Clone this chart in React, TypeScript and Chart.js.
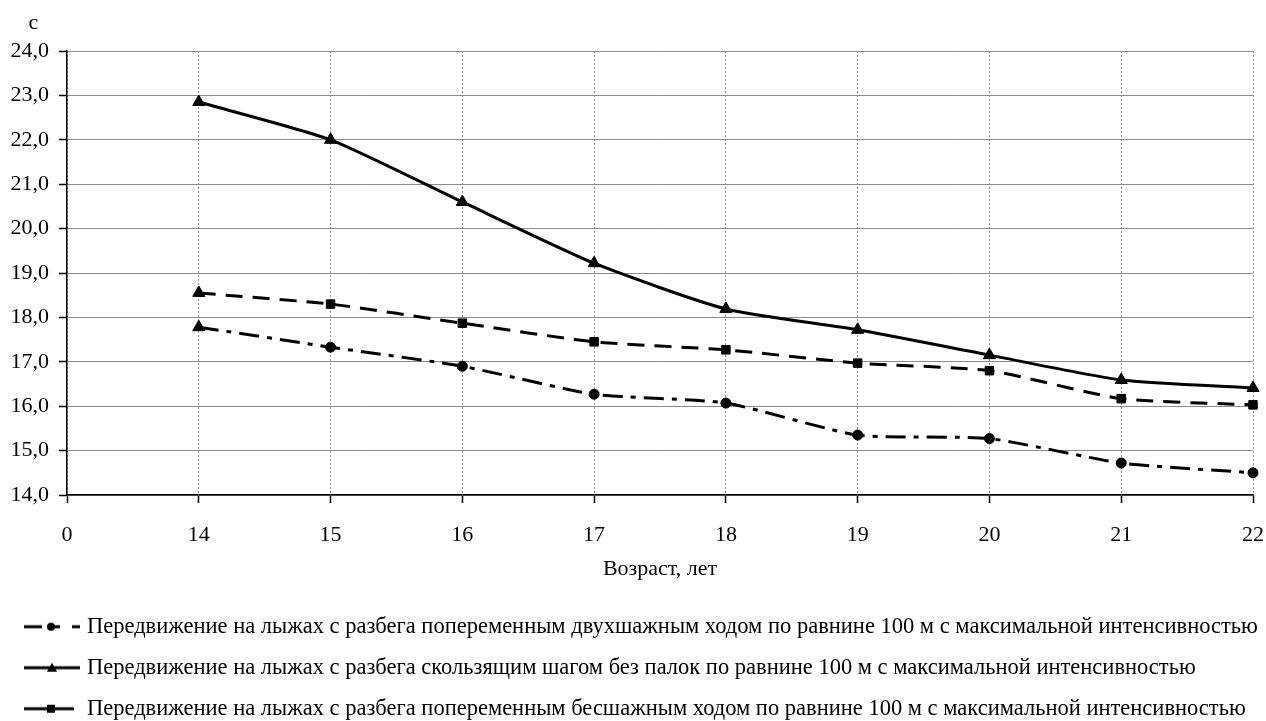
import React, { useEffect, useRef } from "react";
import { Chart, registerables } from "chart.js";

Chart.register(...registerables);

const categories = ["0", "14", "15", "16", "17", "18", "19", "20", "21", "22"];
const seriesLabels = [
  "Передвижение на лыжах с разбега попеременным двухшажным ходом по равнине 100 м с максимальной интенсивностью",
  "Передвижение на лыжах с разбега скользящим шагом без палок по равнине 100 м с максимальной интенсивностью",
  "Передвижение на лыжах с разбега попеременным бесшажным ходом по равнине 100 м с максимальной интенсивностью",
];
const twoStepValues = [null, 17.78, 17.33, 16.9, 16.27, 16.07, 15.35, 15.27, 14.72, 14.5];
const glideValues = [null, 22.85, 22.0, 20.6, 19.22, 18.19, 17.72, 17.15, 16.59, 16.41];
const noStepValues = [null, 18.55, 18.3, 17.87, 17.45, 17.27, 16.97, 16.8, 16.17, 16.03];
const yMin = 14;
const yMax = 24;
const xTitle = "Возраст, лет";
const yUnit = "c";

const FONT = "'Liberation Serif', 'Times New Roman', serif";
const TICK_FS = 22;
const LEG_FS = 22.5;
const LEG_PAD = 41 - LEG_FS;
const PAD_LEFT = 28.25 - LEG_PAD;

function makeSample(kind: number): HTMLCanvasElement {
  const c = document.createElement("canvas");
  c.width = 56;
  c.height = 14;
  const g = c.getContext("2d")!;
  g.fillStyle = "#000";
  const cy = 7;
  const bar = (x1: number, x2: number) => g.fillRect(x1, cy - 1.5, x2 - x1, 3);
  if (kind === 0) {
    bar(0, 18);
    bar(27, 36);
    bar(48, 56);
    g.beginPath();
    g.arc(27, cy, 4, 0, Math.PI * 2);
    g.fill();
  } else if (kind === 1) {
    bar(0, 56);
    g.beginPath();
    g.moveTo(28, cy - 5);
    g.lineTo(33, cy + 4);
    g.lineTo(23, cy + 4);
    g.closePath();
    g.fill();
  } else {
    bar(0, 50);
    g.fillRect(23, cy - 4, 8, 8);
  }
  return c;
}

const unitPlugin = {
  id: "unitLabel",
  afterDraw(chart: any) {
    const ctx = chart.ctx;
    ctx.save();
    ctx.fillStyle = "#000";
    ctx.font = `${TICK_FS}px ${FONT}`;
    ctx.textAlign = "center";
    ctx.textBaseline = "alphabetic";
    ctx.fillText(yUnit, 33.5, 28.5);
    ctx.restore();
  },
};

export default function App() {
  const ref = useRef<HTMLCanvasElement | null>(null);
  useEffect(() => {
    if (!ref.current) return;
    const samples = [makeSample(0), makeSample(1), makeSample(2)];
    const styleArr = (main: string, first: string) =>
      categories.map((_, i) => (i === 1 ? first : main));
    const radArr = (main: number, first: number) =>
      categories.map((_, i) => (i === 1 ? first : main));
    const chart = new Chart(ref.current, {
      type: "line",
      data: {
        labels: categories,
        datasets: [
          {
            label: seriesLabels[0],
            data: twoStepValues,
            borderColor: "#000",
            backgroundColor: "#000",
            borderWidth: 3,
            borderDash: [20, 8, 5, 8],
            pointStyle: styleArr("circle", "triangle") as any,
            pointRadius: radArr(5, 7),
            pointBorderWidth: 1,
            tension: 0.2,
          },
          {
            label: seriesLabels[1],
            data: glideValues,
            borderColor: "#000",
            backgroundColor: "#000",
            borderWidth: 3,
            pointStyle: "triangle",
            pointRadius: 7,
            pointBorderWidth: 1,
            tension: 0.2,
          },
          {
            label: seriesLabels[2],
            data: noStepValues,
            borderColor: "#000",
            backgroundColor: "#000",
            borderWidth: 3,
            borderDash: [17, 10],
            pointStyle: styleArr("rect", "triangle") as any,
            pointRadius: radArr(6, 7),
            pointBorderWidth: 1,
            tension: 0.2,
          },
        ],
      },
      options: {
        animation: false,
        responsive: false,
        layout: { padding: { top: 51, left: PAD_LEFT, right: 0, bottom: 0 } },
        plugins: {
          tooltip: { enabled: false },
          legend: {
            position: "bottom",
            align: "start",
            labels: {
              usePointStyle: true,
              pointStyleWidth: 47.5,
              padding: LEG_PAD,
              color: "#000",
              font: { family: FONT, size: LEG_FS },
              generateLabels: () =>
                seriesLabels.map((t, i) => ({
                  text: t,
                  pointStyle: samples[i] as any,
                  fillStyle: "#000",
                  strokeStyle: "rgba(0,0,0,0)",
                  lineWidth: 0,
                  hidden: false,
                  datasetIndex: i,
                  fontColor: "#000",
                })),
            },
          },
        },
        scales: {
          x: {
            type: "category",
            offset: false,
            afterFit: (s: any) => {
              s.paddingRight = 13;
              s.paddingLeft = 0;
              s.height = 102;
            },
            grid: {
              color: "#8c8c8c",
              lineWidth: 1,
              tickColor: "#000",
              tickLength: 8,
              tickWidth: 1.5,
              tickBorderDash: [],
            },
            border: { display: true, color: "#000", width: 1.5, dash: [2, 2] },
            ticks: {
              color: "#000",
              padding: 18.8,
              maxRotation: 0,
              autoSkip: false,
              font: { family: FONT, size: TICK_FS },
            },
            title: {
              display: true,
              text: xTitle,
              color: "#000",
              font: { family: FONT, size: TICK_FS },
              padding: { top: 6.6, bottom: 15 },
            },
          },
          y: {
            min: yMin,
            max: yMax,
            afterFit: (s: any) => {
              s.width = 67 - PAD_LEFT;
            },
            grid: {
              color: "#8c8c8c",
              lineWidth: 1,
              tickColor: "#000",
              tickLength: 8,
              tickWidth: 1.5,
            },
            border: { display: true, color: "#000", width: 1.5 },
            ticks: {
              stepSize: 1,
              color: "#000",
              padding: 10,
              font: { family: FONT, size: TICK_FS },
              callback: (v: any) => Number(v).toFixed(1).replace(".", ","),
            },
          },
        },
      },
      plugins: [unitPlugin],
    });
    return () => chart.destroy();
  }, []);
  return (
    <div
      style={{
        position: "absolute",
        left: 0,
        top: 0,
        width: 1266,
        height: 721,
        overflow: "hidden",
        background: "#fff",
      }}
    >
      <canvas ref={ref} width={1266} height={730} style={{ width: 1266, height: 730, display: "block" }} />
    </div>
  );
}
